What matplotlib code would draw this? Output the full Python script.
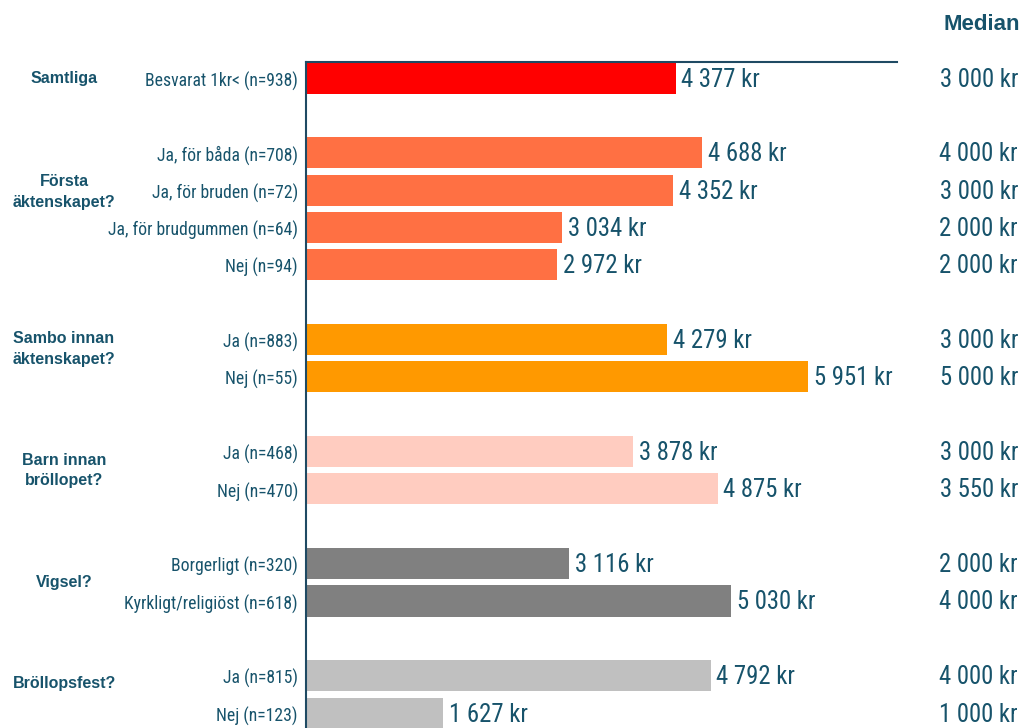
import matplotlib
matplotlib.use("Agg")
import matplotlib.pyplot as plt
from matplotlib.transforms import blended_transform_factory

# ---- data ----
groups = ["Samtliga", "Första\näktenskapet?", "Sambo innan\näktenskapet?",
          "Barn innan\nbröllopet?", "Vigsel?", "Bröllopsfest?"]
sub_labels = [
    ["Besvarat 1kr< (n=938)"],
    ["Ja, för båda (n=708)", "Ja, för bruden (n=72)", "Ja, för brudgummen (n=64)", "Nej (n=94)"],
    ["Ja (n=883)", "Nej (n=55)"],
    ["Ja (n=468)", "Nej (n=470)"],
    ["Borgerligt (n=320)", "Kyrkligt/religiöst (n=618)"],
    ["Ja (n=815)", "Nej (n=123)"],
]
mean_values = [
    [4377],
    [4688, 4352, 3034, 2972],
    [4279, 5951],
    [3878, 4875],
    [3116, 5030],
    [4792, 1627],
]
median_values = [
    [3000],
    [4000, 3000, 2000, 2000],
    [3000, 5000],
    [3000, 3550],
    [2000, 4000],
    [4000, 1000],
]
group_colors = ["#FF0000", "#FF7043", "#FF9900", "#FFCCC0", "#808080", "#C0C0C0"]

# layout: vertical position (in bar slots) of each group title
group_title_pos = [0.0, 3.05, 7.25, 10.5, 13.5, 16.2]

TEXT = "#17536B"
LINE = "#1F4A63"
NARROW = ["Roboto Condensed", "Liberation Sans", "DejaVu Sans"]
BOLD = ["Liberation Sans", "DejaVu Sans"]

def fmt(v):
    return f"{v:,}".replace(",", " ") + " kr"

fig = plt.figure(figsize=(10.24, 7.28), dpi=100)
ax = fig.add_axes([306/1024, 0.0, (897-306)/1024, (728-62)/728])

pos = []
y = 0
for vals in mean_values:
    pos.append(list(range(y, y + len(vals))))
    y += len(vals) + 1

trans_lbl = blended_transform_factory(fig.transFigure, ax.transData)
for gi, vals in enumerate(mean_values):
    ax.barh(pos[gi], vals, height=0.83, color=group_colors[gi], zorder=2)
    for yy, v, med, lab in zip(pos[gi], vals, median_values[gi], sub_labels[gi]):
        ax.text(v + 70, yy + 0.04, fmt(v), va="center", ha="left", fontsize=17.8,
                color=TEXT, family=NARROW)
        ax.text(1018/1024, yy + 0.04, fmt(med), va="center", ha="right", fontsize=17.8,
                color=TEXT, family=NARROW, transform=trans_lbl)
        ax.text(298/1024, yy + 0.08, lab, va="center", ha="right", fontsize=12.7,
                color=TEXT, family=NARROW, transform=trans_lbl)
    ax.text(64/1024, group_title_pos[gi], groups[gi], va="center", ha="center",
            fontsize=11.5, fontweight="bold", color=TEXT, family=BOLD,
            transform=trans_lbl, linespacing=1.45)

fig.text(1020/1024, 1 - 25/728, "Median", ha="right", va="center", fontsize=16,
         fontweight="bold", color=TEXT, family=BOLD)

ax.set_xlim(0, 7000)
ax.set_ylim(17.4, -0.43)
for s in ["right", "bottom"]:
    ax.spines[s].set_visible(False)
ax.spines["left"].set_color(LINE)
ax.spines["top"].set_color(LINE)
ax.spines["left"].set_linewidth(1.5)
ax.spines["top"].set_linewidth(1.5)
ax.set_xticks([])
ax.set_yticks([])
ax.patch.set_alpha(0)

fig.savefig("out.png", dpi=100)
